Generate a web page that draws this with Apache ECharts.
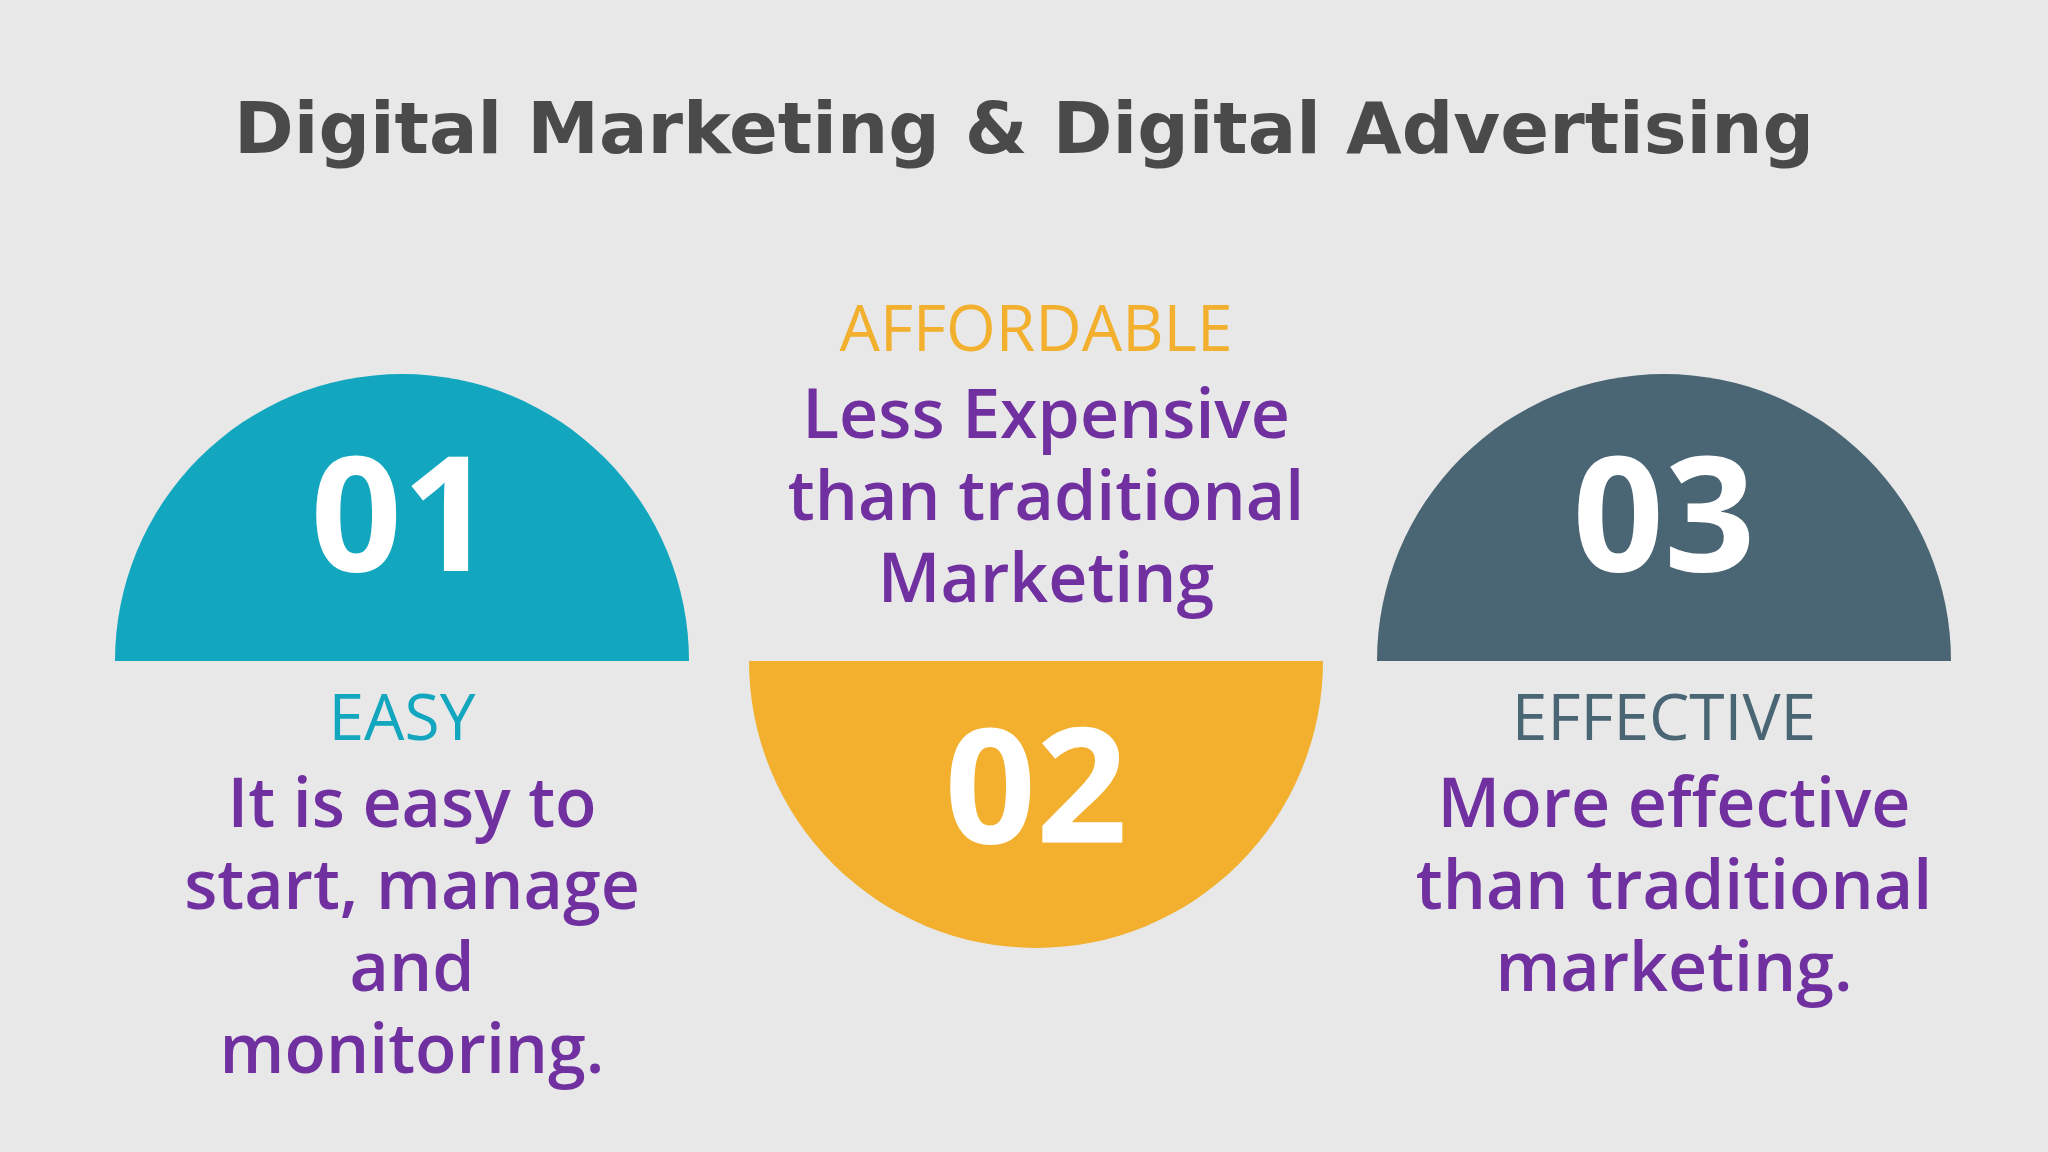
<!DOCTYPE html>
<html>
<head>
<meta charset="utf-8">
<script src="https://cdn.jsdelivr.net/npm/echarts@6/dist/echarts.min.js"></script>
<style>
  html, body { margin: 0; padding: 0; background: #e8e8e8; }
  #chart { width: 2048px; height: 1152px; }
</style>
</head>
<body>
<div id="chart"></div>
<script>
// one semicircle per step
const numbers = ['01', '02', '03'];
const headings = ['EASY', 'AFFORDABLE', 'EFFECTIVE'];
const bodies = [
    'It is easy to\nstart, manage\nand\nmonitoring.',
    'Less Expensive\nthan traditional\nMarketing',
    'More effective\nthan traditional\nmarketing.'
];
const colors = ['#13a6bf', '#f2b02e', '#4a6573'];
const upper = [true, false, true];

let chart = echarts.init(document.getElementById('chart'));

const centersX = [402, 1036, 1664];
const baseY = 661;
const radius = 287;

let series = [];
let graphic = [{
    type: 'text', left: 'center', top: 98,
    style: { text: 'Digital Marketing & Digital Advertising', fill: '#4a4a4a',
             font: '900 72px "DejaVu Sans"' }
}];

numbers.forEach((num, i) => {
    series.push({
        type: 'pie',
        silent: true,
        z: 1,
        center: [centersX[i], baseY],
        radius: [0, radius],
        startAngle: upper[i] ? 180 : 0,
        label: { show: false },
        labelLine: { show: false },
        data: [
            { value: 1, itemStyle: { color: colors[i] } },
            { value: 1, itemStyle: { color: 'transparent' } }
        ]
    });
    let numY = upper[i] ? 525 : 797;
    graphic.push({
        type: 'text', x: centersX[i], y: numY, z: 100, zlevel: 1,
        style: { text: num, fill: '#ffffff', font: 'bold 160px "Open Sans"',
                 align: 'center', verticalAlign: 'middle' }
    });
    let headY = upper[i] ? 722 : 333;
    graphic.push({
        type: 'text', x: centersX[i], y: headY,
        style: { text: headings[i], fill: colors[i], font: '64px "Open Sans"',
                 align: 'center', verticalAlign: 'middle' }
    });
    graphic.push({
        type: 'text', x: centersX[i] + 10, y: headY + 45,
        style: { text: bodies[i], fill: '#7030a0', font: '600 68px "Open Sans"',
                 lineHeight: 82, align: 'center', verticalAlign: 'top' }
    });
});

let option = {
    backgroundColor: '#e8e8e8',
    animation: false,
    series: series,
    graphic: graphic
};

chart.setOption(option);
</script>
</body>
</html>
